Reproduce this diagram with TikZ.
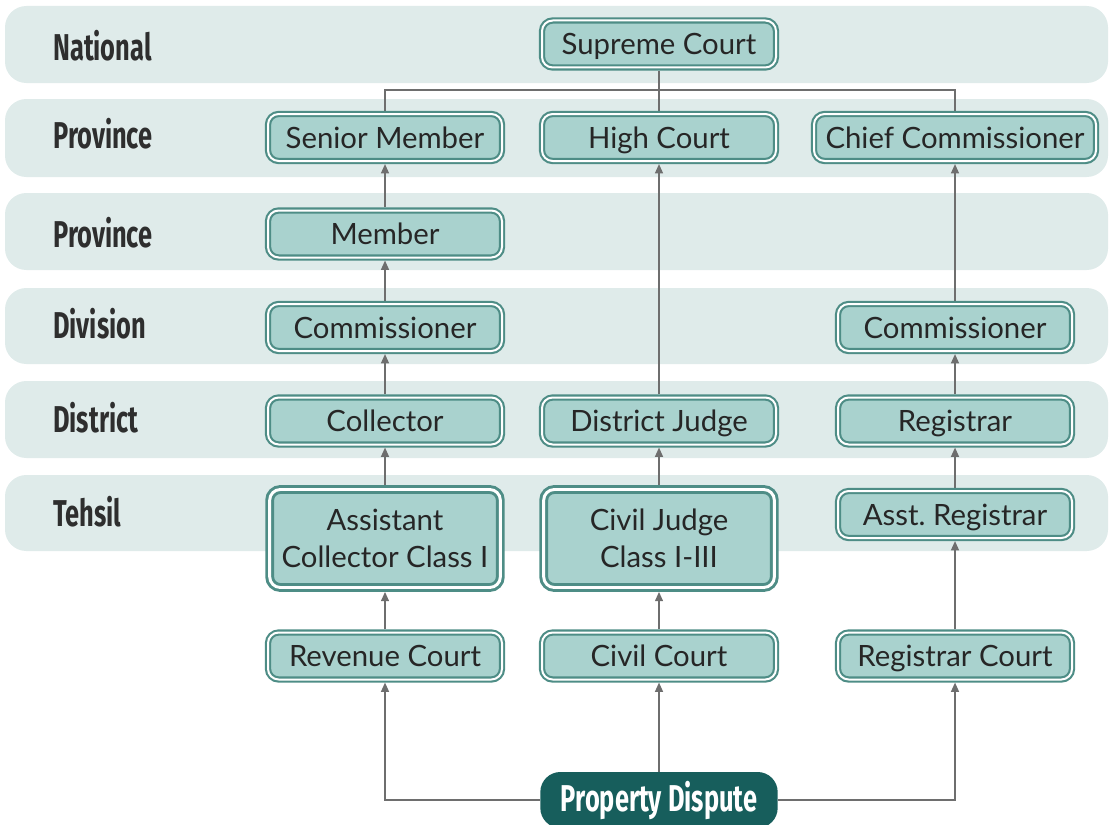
\documentclass[tikz,border=0pt]{standalone}
\usepackage{fontspec}
\setmainfont{Lato}
\newfontfamily\bandfont[FakeStretch=0.68]{Fira Sans}
\usetikzlibrary{arrows.meta,positioning}
\definecolor{bandgray}{HTML}{DFEBEA}
\definecolor{courtfill}{HTML}{A9D2CE}
\definecolor{courtline}{HTML}{4E8D86}
\definecolor{disputeteal}{HTML}{175E5C}
\definecolor{linkgray}{HTML}{6E6E6E}
\definecolor{labeltext}{HTML}{2E2E2E}
\pgfdeclarelayer{bands}
\pgfdeclarelayer{links}
\pgfsetlayers{bands,links,main}

\begin{document}
\begin{tikzpicture}[x=0.75pt, y=-0.75pt,
    court/.style={draw=courtline, double=white, line width=1.6pt, double distance=1.5pt,
        fill=courtfill, rounded corners=8pt, minimum width=175.5pt, minimum height=35.25pt,
        outer sep=2.3pt, inner sep=2pt, align=center, text=black!85,
        text height=17pt, text depth=1pt,
        font=\fontsize{22}{27.75}\selectfont},
    bigcourt/.style={court, line width=2.2pt, double distance=2.2pt,
        text height=, text depth=,
        minimum width=173pt, minimum height=73.5pt, outer sep=3.3pt},
    level/.style={fill=bandgray, rounded corners=16pt},
    levellabel/.style={anchor=west, inner sep=0pt, text=labeltext,
        font=\bandfont\bfseries\fontsize{28}{32}\selectfont},
    link/.style={draw=linkgray, line width=1.1pt},
    uplink/.style={link, -{Triangle[length=7pt,width=6pt]}}]
    \useasboundingbox (0,0) rectangle (1112,824);

    % Level bands
    \begin{pgfonlayer}{bands}
        \fill[level] (5,6) rectangle (1108,83);
        \fill[level] (5,99) rectangle (1108,177);
        \fill[level] (5,193) rectangle (1108,270);
        \fill[level] (5,288) rectangle (1108,364);
        \fill[level] (5,381) rectangle (1108,458);
        \fill[level] (5,475) rectangle (1108,551);
    \end{pgfonlayer}

    % Level names
    \node[levellabel] (lnational) at (53,46) {National};
    \node[levellabel] (lprovince) at (53,134) {Province};
    \node[levellabel] (lprovincetwo) at (53,233) {Province};
    \node[levellabel] (ldivision) at (53,324) {Division};
    \node[levellabel] (ldistrict) at (53,418) {District};
    \node[levellabel] (ltehsil) at (53,512) {Tehsil};

    % Courts and officers
    \node[court] (supreme) at (659,44) {Supreme Court};
    \node[court] (senior) at (385,137.5) {Senior Member};
    \node[court] (high) at (659,137.5) {High Court};
    \node[court, minimum width=211.5pt] (chief) at (955,137.5) {Chief Commissioner};
    \node[court] (member) at (385,234) {Member};
    \node[court] (commleft) at (385,327.5) {Commissioner};
    \node[court] (commright) at (955,327.5) {Commissioner};
    \node[court] (collector) at (385,421) {Collector};
    \node[court] (distjudge) at (659,421) {District Judge};
    \node[court] (registrar) at (955,421) {Registrar};
    \node[bigcourt] (asstcoll) at (385,538.5) {Assistant\\Collector Class I};
    \node[bigcourt] (civiljudge) at (659,538.5) {Civil Judge\\Class I-III};
    \node[court] (asstreg) at (955,514.5) {Asst.\ Registrar};
    \node[court] (revenue) at (385,656) {Revenue Court};
    \node[court] (civil) at (659,656) {Civil Court};
    \node[court] (regcourt) at (955,656) {Registrar Court};

    % Starting point
    \node[fill=disputeteal, rounded corners=15pt, minimum width=178pt, minimum height=42pt,
        inner sep=0pt, text=white, font=\bandfont\bfseries\fontsize{28}{32}\selectfont]
        (dispute) at (659,800) {Property Dispute};

    % Connectors
    \begin{pgfonlayer}{links}
        \coordinate (forkleft) at (385,90);
        \coordinate (forkright) at (955,90);
        \draw[link] (supreme) -- (high);
        \draw[link] (senior) -- (forkleft) -- (forkright) -- (chief);

        \draw[uplink] (member) -- (senior);
        \draw[uplink] (commleft) -- (member);
        \draw[uplink] (collector) -- (commleft);
        \draw[uplink] (asstcoll) -- (collector);
        \draw[uplink] (revenue) -- (asstcoll);

        \draw[uplink] (distjudge) -- (high);
        \draw[uplink] (civiljudge) -- (distjudge);
        \draw[uplink] (civil) -- (civiljudge);

        \draw[uplink] (commright) -- (chief);
        \draw[uplink] (registrar) -- (commright);
        \draw[uplink] (asstreg) -- (registrar);
        \draw[uplink] (regcourt) -- (asstreg);

        \draw[uplink] (dispute) -| (revenue);
        \draw[uplink] (dispute) -- (civil);
        \draw[uplink] (dispute) -| (regcourt);
    \end{pgfonlayer}
\end{tikzpicture}
\end{document}
